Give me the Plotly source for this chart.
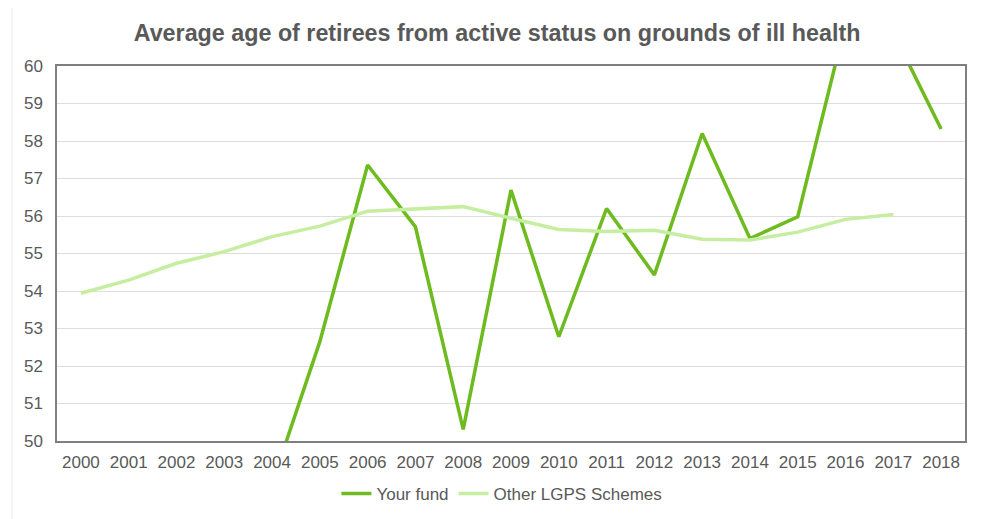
"""Average age of ill-health retirees: fund vs other LGPS schemes."""

import plotly.graph_objects as go

years = [str(y) for y in range(2000, 2019)]

# values below 50 / above 60 are clipped by the axis range, as in the original
your_fund = [None, None, None, None, 48.86, 52.65, 57.36, 55.71, 50.31, 56.69,
             52.78, 56.20, 54.43, 58.20, 55.40, 55.98, 61.14, 60.89, 58.32]
other_lgps = [53.94, 54.29, 54.74, 55.05, 55.45, 55.73, 56.13, 56.18, 56.25, 55.94,
              55.64, 55.59, 55.62, 55.38, 55.36, 55.57, 55.91, 56.04, None]

y_ticks = list(range(50, 61))

TEXT = "#595959"
FONT = "Liberation Sans, Arial, sans-serif"

fig = go.Figure()
fig.add_trace(go.Scatter(
    x=years, y=your_fund, name="Your fund", mode="lines",
    line=dict(color="#6DBB1F", width=3.5), connectgaps=False,
))
fig.add_trace(go.Scatter(
    x=years, y=other_lgps, name="Other LGPS Schemes", mode="lines",
    line=dict(color="#C6EEA0", width=3.5), connectgaps=False,
))

# faint chart-area frame with a shadow on the right
fig.add_shape(type="rect", xref="paper", yref="paper",
              x0=-0.0496, x1=1.017, y0=-0.25, y1=1.163,
              line=dict(color="#EDEDED", width=1), layer="below")
fig.add_shape(type="line", xref="paper", yref="paper",
              x0=1.0205, x1=1.0205, y0=-0.25, y1=1.163,
              line=dict(color="#D4D4D4", width=4), layer="below")

fig.update_layout(
    width=988, height=519,
    # page body adds an 8px offset, so margins are shifted to compensate
    margin=dict(l=49, r=31, t=58, b=86),
    paper_bgcolor="white", plot_bgcolor="white",
    font=dict(family=FONT, size=17, color=TEXT),
    title=dict(text="<b>Average age of retirees from active status on grounds of ill health</b>",
               x=0.495, xanchor="center", y=0.952, yanchor="middle",
               font=dict(size=23.3, color=TEXT)),
    xaxis=dict(type="category", range=[-0.5, 18.5], showgrid=False,
               showline=True, linecolor="#7F7F7F", linewidth=1.5, mirror=True,
               ticks="", ticklabelstandoff=5, tickfont=dict(size=17, color=TEXT)),
    yaxis=dict(range=[50, 60], tickvals=y_ticks, showgrid=True,
               gridcolor="#DEDEDE", gridwidth=1, zeroline=False,
               showline=True, linecolor="#7F7F7F", linewidth=1.5, mirror=True,
               ticks="", ticklabelstandoff=9, tickfont=dict(size=17, color=TEXT)),
    legend=dict(orientation="h", x=0.49, xanchor="center", y=-0.141, yanchor="middle",
                font=dict(size=17, color=TEXT), itemwidth=30, tracegroupgap=0),
    showlegend=True,
)

fig.write_html("out.html")
